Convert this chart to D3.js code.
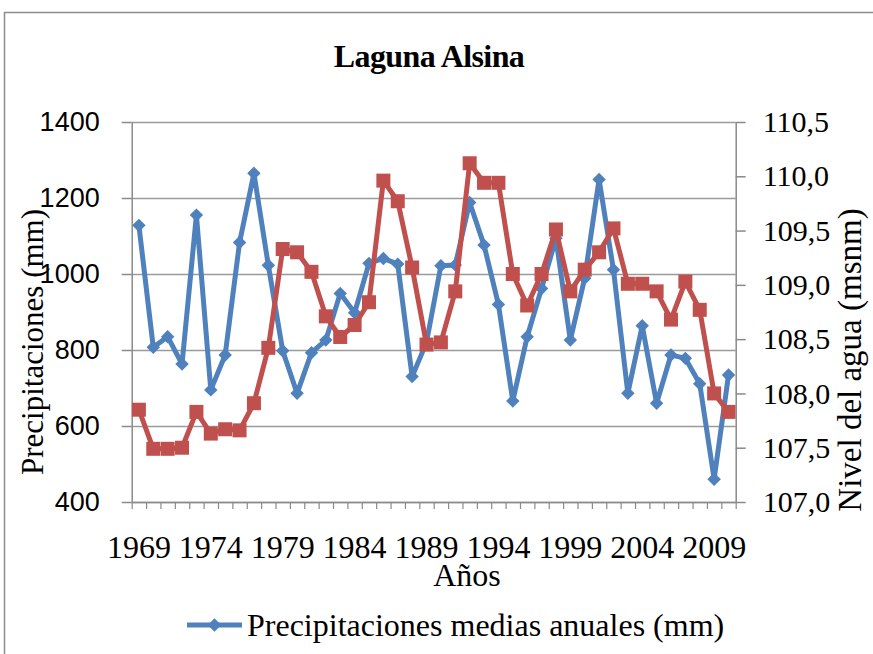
<!DOCTYPE html>
<html>
<head>
<meta charset="utf-8">
<script src="https://cdn.jsdelivr.net/npm/d3@7"></script>
<style>
  body { margin: 0; background: #fff; }
  svg text { fill: #000; }
</style>
</head>
<body>
<svg id="chart" width="873" height="654"></svg>
<script>
// years 1969-2010
var years = d3.range(1969, 2011);
var yearLabels = [1969, 1974, 1979, 1984, 1989, 1994, 1999, 2004, 2009];

// precipitaciones medias anuales (mm)
var precip = [1128, 807, 835, 763, 1155, 695, 787, 1083, 1265, 1023,
              798, 686, 793, 826, 949, 898, 1028, 1041, 1026, 730,
              820, 1022, 1024, 1188, 1076, 920, 666, 835, 962, 1094,
              826, 989, 1249, 1011, 686, 864, 660, 787, 778, 711,
              460, 734];

// nivel del agua (msnm)
var nivel = [107.85, 107.49, 107.49, 107.50, 107.83, 107.63, 107.67, 107.66, 107.91, 108.42,
             109.33, 109.30, 109.12, 108.71, 108.52, 108.63, 108.84, 109.96, 109.77, 109.16,
             108.45, 108.47, 108.94, 110.12, 109.94, 109.94, 109.10, 108.81, 109.10, 109.51,
             108.94, 109.14, 109.30, 109.52, 109.01, 109.01, 108.94, 108.68, 109.03, 108.77,
             108.00, 107.83];

var leftTicks = [400, 600, 800, 1000, 1200, 1400];
var rightTicks = [107.0, 107.5, 108.0, 108.5, 109.0, 109.5, 110.0, 110.5];

var blue = "#4F81BD", red = "#C0504D", gridCol = "#9a9a9a", axisCol = "#8a8a8a";
var serif = "'Liberation Serif', 'Times New Roman', serif";
var sans = "'Liberation Sans', Arial, sans-serif";

var pLeft = 131.7, pRight = 735.7, pTop = 122, pBottom = 502;

var svg = d3.select("#chart");

// outer border
svg.append("rect")
    .attr("x", 4.5).attr("y", 12.5)
    .attr("width", 900).attr("height", 700)
    .attr("fill", "none").attr("stroke", "#8c8c8c").attr("stroke-width", 1.5);

var x = d3.scaleBand().domain(years).range([pLeft, pRight]).padding(0);
var xEdge = d3.scaleLinear().domain([0, years.length]).range([pLeft, pRight]);
var yL = d3.scaleLinear().domain([400, 1400]).range([pBottom, pTop]);
var yR = d3.scaleLinear().domain([107, 110.5]).range([pBottom, pTop]);

var comma = d3.formatLocale({decimal: ",", thousands: ".", grouping: [3], currency: ["", ""]});

// gridlines
var grid = svg.append("g")
    .attr("transform", "translate(" + pLeft + ",0)")
    .call(d3.axisLeft(yL).tickValues(leftTicks).tickSize(-(pRight - pLeft)).tickFormat(""));
grid.select(".domain").remove();
grid.selectAll("line").attr("stroke", gridCol).attr("stroke-width", 1.5);

// left axis
var gL = svg.append("g")
    .attr("transform", "translate(" + pLeft + ",0)")
    .call(d3.axisLeft(yL).tickValues(leftTicks).tickSizeInner(10).tickSizeOuter(0)
        .tickPadding(22).tickFormat(d3.format("d")));
gL.select(".domain").attr("stroke", axisCol).attr("stroke-width", 1.5);
gL.selectAll("line").attr("stroke", axisCol).attr("stroke-width", 1.5);
gL.selectAll("text").style("font-family", sans).style("font-size", "27px").attr("fill", "#000");

// right axis
var gR = svg.append("g")
    .attr("transform", "translate(" + pRight + ",0)")
    .call(d3.axisRight(yR).tickValues(rightTicks).tickSizeInner(10).tickSizeOuter(0)
        .tickPadding(17).tickFormat(comma.format(".1f")));
gR.select(".domain").attr("stroke", axisCol).attr("stroke-width", 1.5);
gR.selectAll("line").attr("stroke", axisCol).attr("stroke-width", 1.5);
gR.selectAll("text").style("font-family", serif).style("font-size", "30px").attr("fill", "#000");

// bottom axis: tick marks on category edges
var gB = svg.append("g")
    .attr("transform", "translate(0," + pBottom + ")")
    .call(d3.axisBottom(xEdge).tickValues(d3.range(0, years.length + 1)).tickSizeInner(7).tickSizeOuter(0).tickFormat(""));
gB.select(".domain").attr("stroke", axisCol).attr("stroke-width", 1.5);
gB.selectAll("line").attr("stroke", axisCol).attr("stroke-width", 1.2);

// bottom axis labels
var gBL = svg.append("g")
    .attr("transform", "translate(0," + pBottom + ")")
    .call(d3.axisBottom(x).tickValues(yearLabels).tickSize(0).tickPadding(33));
gBL.select(".domain").remove();
gBL.selectAll("text").style("font-family", serif).style("font-size", "32px").attr("fill", "#000");

var cx = function (d, i) { return x(years[i]) + x.bandwidth() / 2; };
var diamond = d3.symbol().type(d3.symbolDiamond2).size(115);

// blue series: precipitaciones
svg.append("path")
    .datum(precip)
    .attr("fill", "none").attr("stroke", blue).attr("stroke-width", 5).attr("stroke-linejoin", "round")
    .attr("d", d3.line().x(cx).y(function (d) { return yL(d); }));
svg.selectAll(".dm").data(precip).enter().append("path")
    .attr("class", "dm")
    .attr("transform", function (d, i) { return "translate(" + cx(d, i) + "," + yL(d) + ")"; })
    .attr("d", diamond)
    .attr("fill", blue);

// red series: nivel del agua
svg.append("path")
    .datum(nivel)
    .attr("fill", "none").attr("stroke", red).attr("stroke-width", 5).attr("stroke-linejoin", "round")
    .attr("d", d3.line().x(cx).y(function (d) { return yR(d); }));
svg.selectAll(".sq").data(nivel).enter().append("rect")
    .attr("class", "sq")
    .attr("x", function (d, i) { return cx(d, i) - 7; })
    .attr("y", function (d) { return yR(d) - 7; })
    .attr("width", 14).attr("height", 14)
    .attr("fill", red);

// title
svg.append("text")
    .attr("x", 429).attr("y", 67)
    .attr("text-anchor", "middle")
    .style("font-family", serif).style("font-size", "32px").style("font-weight", "bold")
    .style("letter-spacing", "-0.6px")
    .text("Laguna Alsina");

// axis titles
svg.append("text")
    .attr("transform", "translate(43,342) rotate(-90)")
    .attr("text-anchor", "middle")
    .style("font-family", serif).style("font-size", "31px")
    .text("Precipitaciones (mm)");

svg.append("text")
    .attr("transform", "translate(861,360) rotate(-90)")
    .attr("text-anchor", "middle")
    .style("font-family", serif).style("font-size", "33px")
    .text("Nivel del agua (msnm)");

svg.append("text")
    .attr("x", 467).attr("y", 586)
    .attr("text-anchor", "middle")
    .style("font-family", serif).style("font-size", "32px")
    .text("Años");

// legend
var lg = svg.append("g");
lg.append("line")
    .attr("x1", 187).attr("x2", 242).attr("y1", 625).attr("y2", 625)
    .attr("stroke", blue).attr("stroke-width", 5);
lg.append("path")
    .attr("transform", "translate(214.5,625)")
    .attr("d", diamond)
    .attr("fill", blue);
lg.append("text")
    .attr("x", 247).attr("y", 636)
    .style("font-family", serif).style("font-size", "32px")
    .text("Precipitaciones medias anuales (mm)");
</script>
</body>
</html>
